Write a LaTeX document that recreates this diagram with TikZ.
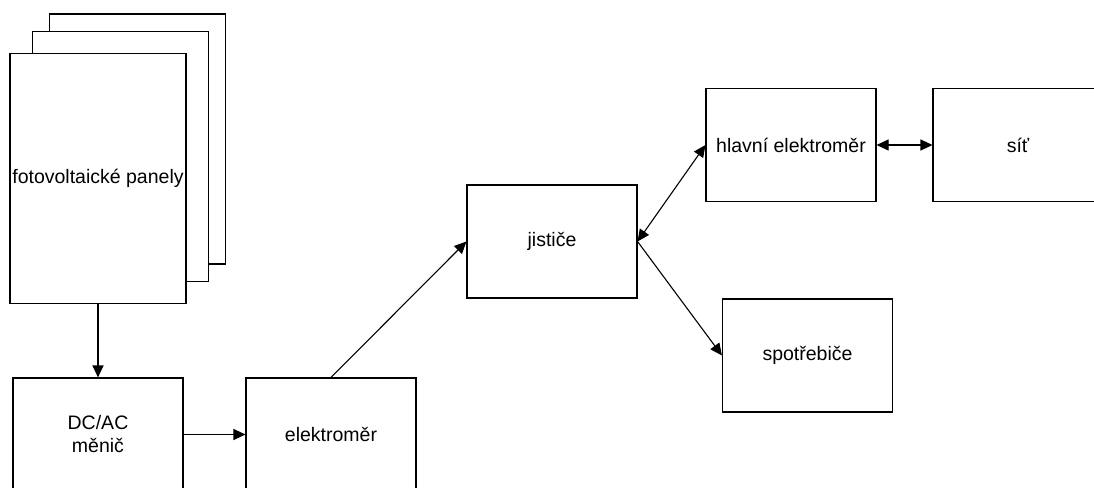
\documentclass[tikz,border=0pt]{standalone}
\usepackage{fontspec}
\setmainfont{Liberation Sans}
\usetikzlibrary{arrows.meta}

\begin{document}
\begin{tikzpicture}[x=1pt, y=-1pt, line width=1.1pt,
    box/.style={draw, fill=white, minimum width=170pt, minimum height=113pt, inner sep=0pt,
        align=center, font=\fontsize{19.5}{23}\selectfont},
    panel/.style={box, minimum width=176pt, minimum height=250pt},
    tip/.style={-{Triangle[length=12pt, width=11pt]}},
    tips/.style={{Triangle[length=12pt, width=11pt]}-{Triangle[length=12pt, width=11pt]}}]
    \useasboundingbox (0,0) rectangle (1094,487);
    \clip (0,0) rectangle (1094,487);
    \node[panel] (panel3) at (137.5,139) {};
    \node[panel] (panel2) at (120.5,156.5) {};
    \node[panel] (panels) at (98,178.5) {fotovoltaické panely};
    \node[box] (menic) at (98,434.5) {DC/AC\\měnič};
    \node[box] (elmer) at (331,434.5) {elektroměr};
    \node[box] (jistice) at (552,241.5) {jističe};
    \node[box] (hlavni) at (791,145) {hlavní elektroměr};
    \node[box] (sit) at (1018,145) {síť};
    \node[box] (spotrebice) at (807.5,355.5) {spotřebiče};
    \draw[tip] (panels) -- (menic);
    \draw[tip] (menic) -- (elmer);
    \draw[tip] (elmer.north) -- (jistice.west);
    \draw[tips] (jistice.east) -- (hlavni.west);
    \draw[tips] (hlavni) -- (sit);
    \draw[tip] (jistice.east) -- (spotrebice.west);
\end{tikzpicture}
\end{document}
